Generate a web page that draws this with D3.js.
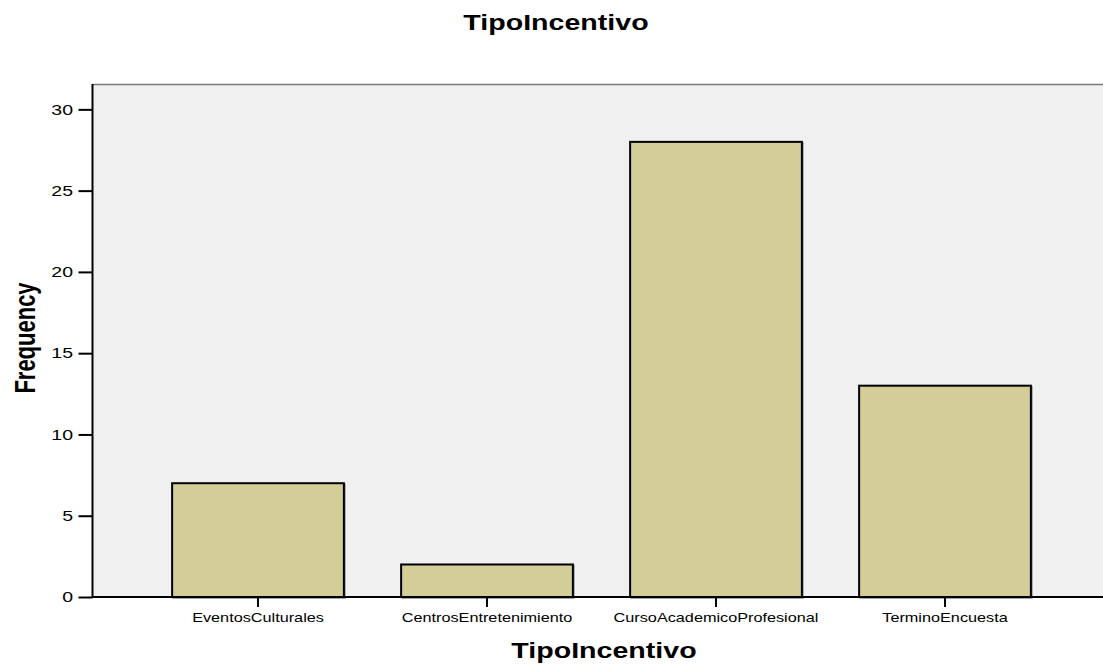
<!DOCTYPE html>
<html>
<head>
<meta charset="utf-8">
<script src="https://cdn.jsdelivr.net/npm/d3@7"></script>
<style>
  body { margin: 0; background: #fff; }
  text { font-family: Arial, "Liberation Sans", sans-serif; fill: #000; }
</style>
</head>
<body>
<div id="chart"></div>
<script>
var categories = ['EventosCulturales', 'CentrosEntretenimiento', 'CursoAcademicoProfesional', 'TerminoEncuesta'];
var frequency = [7, 2, 28, 13];
var yTicks = [0, 5, 10, 15, 20, 25, 30];

var W = 1103, H = 668;
var plot = { left: 92.5, top: 84, right: 1103, bottom: 597 };
var stretch = 1.3; // text in the original is drawn wide

var svg = d3.select('#chart').append('svg')
  .attr('width', W).attr('height', H);

var y = d3.scaleLinear().domain([0, 31.56]).range([plot.bottom, plot.top]);
var x = d3.scaleBand().domain(categories)
  .range([143.5, 1059.5]).paddingInner(0.25).paddingOuter(0.125);

// plot background
svg.append('rect')
  .attr('x', plot.left).attr('y', plot.top)
  .attr('width', plot.right - plot.left).attr('height', plot.bottom - plot.top)
  .attr('fill', '#f0f0f0');
svg.append('line')
  .attr('x1', plot.left).attr('x2', plot.right)
  .attr('y1', plot.top + 0.5).attr('y2', plot.top + 0.5)
  .attr('stroke', '#7a7a7a').attr('stroke-width', 1.5);

// bar shadows + bars
svg.append('g').selectAll('rect').data(frequency).enter().append('rect')
  .attr('x', function (d, i) { return x(categories[i]) + 1; })
  .attr('y', function (d) { return y(d) + 1; })
  .attr('width', x.bandwidth())
  .attr('height', function (d) { return y(0) - y(d); })
  .attr('fill', 'none').attr('stroke', '#888').attr('stroke-width', 1.5);

svg.append('g').selectAll('rect').data(frequency).enter().append('rect')
  .attr('x', function (d, i) { return x(categories[i]); })
  .attr('y', function (d) { return y(d); })
  .attr('width', x.bandwidth())
  .attr('height', function (d) { return y(0) - y(d); })
  .attr('fill', '#d3ce97').attr('stroke', '#000').attr('stroke-width', 2);

// y axis
var yAxis = d3.axisLeft(y).tickValues(yTicks).tickSize(14).tickPadding(5.5);
var yG = svg.append('g').attr('transform', 'translate(' + plot.left + ',0)').call(yAxis);
yG.select('.domain').remove();
yG.selectAll('.tick line').attr('stroke', '#000').attr('stroke-width', 2);
yG.selectAll('.tick text').style('font-size', '15px').attr('fill', '#000')
  .attr('transform', function () {
    var tx = +d3.select(this).attr('x');
    return 'translate(' + tx + ',0) scale(' + stretch + ',1) translate(' + (-tx) + ',0)';
  });
svg.append('line')
  .attr('x1', plot.left).attr('x2', plot.left)
  .attr('y1', plot.top).attr('y2', plot.bottom + 1)
  .attr('stroke', '#000').attr('stroke-width', 2);

// x axis
var xAxis = d3.axisBottom(x).tickSize(10).tickPadding(6);
var xG = svg.append('g').attr('transform', 'translate(0,' + plot.bottom + ')').call(xAxis);
xG.select('.domain').remove();
xG.selectAll('.tick line').attr('stroke', '#000').attr('stroke-width', 2);
xG.selectAll('.tick text').style('font-size', '12.5px').attr('fill', '#000')
  .attr('transform', 'scale(' + stretch + ',1)');
svg.append('line')
  .attr('x1', plot.left).attr('x2', plot.right)
  .attr('y1', plot.bottom).attr('y2', plot.bottom)
  .attr('stroke', '#000').attr('stroke-width', 2);

// titles
svg.append('text')
  .attr('transform', 'translate(556,30) scale(' + stretch + ',1)')
  .attr('text-anchor', 'middle').style('font-size', '22px').style('font-weight', 'bold')
  .text('TipoIncentivo');
svg.append('text')
  .attr('transform', 'translate(604,658) scale(' + stretch + ',1)')
  .attr('text-anchor', 'middle').style('font-size', '22px').style('font-weight', 'bold')
  .text('TipoIncentivo');
svg.append('text')
  .attr('transform', 'translate(35,338) scale(' + stretch + ',1) rotate(-90)')
  .attr('text-anchor', 'middle').style('font-size', '22px').style('font-weight', 'bold')
  .text('Frequency');
</script>
</body>
</html>
